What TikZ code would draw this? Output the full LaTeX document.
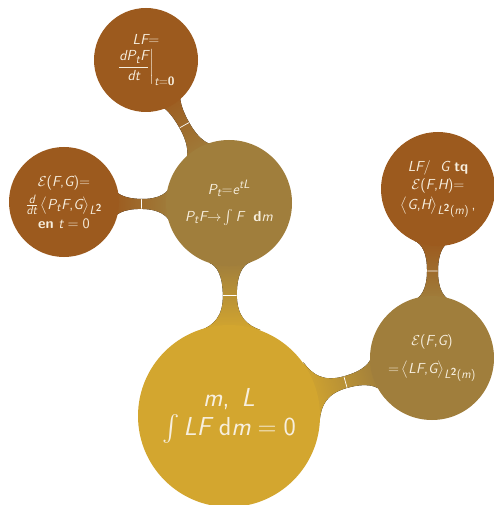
\documentclass[tikz,border=0pt]{standalone}
\usepackage{amsmath,amssymb}
\renewcommand{\familydefault}{\sfdefault}
\usepackage[italic]{mathastext}
\definecolor{cgold}{HTML}{D3A62F}
\definecolor{cmid}{HTML}{A07E3C}
\definecolor{cleaf}{HTML}{9C5A1E}
\definecolor{ctext}{HTML}{F7EFDF}
\tikzset{
  bubble/.style={circle, inner sep=0pt, align=center, text=ctext, font=\fontsize{14.5}{17}\selectfont},
  rootc/.style={bubble, fill=cgold, minimum size=182pt, font=\fontsize{26}{30}\selectfont},
  midc/.style={bubble, fill=cmid, minimum size=126pt},
  leafc/.style={bubble, fill=cleaf, minimum size=110pt},
  seam/.style={draw=white, line width=0.7pt},
}
% connection bar: x1 y1 r1 x2 y2 r2 halfwidth colA colB
\newcommand\cbar[9]{%
  \pgfmathsetmacro\cbdx{#4-#1}\pgfmathsetmacro\cbdy{#5-#2}%
  \pgfmathsetmacro\cbd{veclen(\cbdx,\cbdy)}%
  \pgfmathsetmacro\cbux{\cbdx/\cbd}\pgfmathsetmacro\cbuy{\cbdy/\cbd}%
  \pgfmathsetmacro\cbang{atan2(-\cbdy,\cbdx)-90}%
  \pgfmathsetmacro\cbal{20}%
  \pgfmathsetmacro\cbra{#3-2}\pgfmathsetmacro\cbrb{#6-2}%
  \pgfmathsetmacro\cbg{\cbd-#3-#6}%
  \pgfmathsetmacro\cbum{#3+\cbg/2}%
  \pgfmathsetmacro\cbpau{\cbra*cos(\cbal)}\pgfmathsetmacro\cbpav{\cbra*sin(\cbal)}%
  \pgfmathsetmacro\cbpbu{\cbd-\cbrb*cos(\cbal)}\pgfmathsetmacro\cbpbv{\cbrb*sin(\cbal)}%
  \pgfmathsetmacro\cbta{0.6*(\cbpav-#7)/cos(\cbal)}%
  \pgfmathsetmacro\cbtb{0.6*(\cbpbv-#7)/cos(\cbal)}%
  \pgfmathsetmacro\cbcau{\cbpau+\cbta*sin(\cbal)}\pgfmathsetmacro\cbcav{\cbpav-\cbta*cos(\cbal)}%
  \pgfmathsetmacro\cbcbu{\cbpbu-\cbtb*sin(\cbal)}\pgfmathsetmacro\cbcbv{\cbpbv-\cbtb*cos(\cbal)}%
  \pgfmathsetmacro\cbma{\cbum-0.6*(\cbum-\cbpau)}%
  \pgfmathsetmacro\cbmb{\cbum+0.6*(\cbpbu-\cbum)}%
  \def\cbp##1##2{({#1+(##1)*\cbux-(##2)*\cbuy},{#2+(##1)*\cbuy+(##2)*\cbux})}%
  \fill[bottom color=#8, top color=#9, shading angle=\cbang]
    \cbp{\cbpau}{\cbpav} .. controls \cbp{\cbcau}{\cbcav} and \cbp{\cbma}{#7} .. \cbp{\cbum}{#7}
    .. controls \cbp{\cbmb}{#7} and \cbp{\cbcbu}{\cbcbv} .. \cbp{\cbpbu}{\cbpbv}
    -- \cbp{\cbpbu}{-\cbpbv}
    .. controls \cbp{\cbcbu}{-\cbcbv} and \cbp{\cbmb}{-#7} .. \cbp{\cbum}{-#7}
    .. controls \cbp{\cbma}{-#7} and \cbp{\cbcau}{-\cbcav} .. \cbp{\cbpau}{-\cbpav} -- cycle;
  \draw[seam] \cbp{\cbum}{-#7+0.3} -- \cbp{\cbum}{#7-0.3};
}
\begin{document}
\begin{tikzpicture}[x=1pt,y=-1pt]
\useasboundingbox (0,0) rectangle (494,505);
\begin{scope}
\clip (0,0) rectangle (494,505);
% connection bars
\cbar{231}{414}{91}{229}{205}{63}{7}{cgold}{cmid}
\cbar{231}{414}{91}{432}{358}{62}{6}{cgold}{cmid}
\cbar{229}{205}{63}{145}{55}{52}{5.5}{cmid}{cleaf}
\cbar{229}{205}{63}{62}{203}{55}{5}{cmid}{cleaf}
\cbar{432}{358}{62}{433}{189}{57}{5.5}{cmid}{cleaf}
% concepts
\node[rootc] (root) at (229,416) {$m,\ L$\\[-1pt]$\int LF\ \mathrm{d}m=0$};
\node[midc] (mid) at (229,203) {$P_t{=}e^{tL}$\\[10pt]$P_tF{\to}\int F\ \ \mathbf{d}m$};
\node[leafc, minimum size=104pt] (top) at (146,60) {$LF{=}$\\[4pt]$\left.\dfrac{dP_tF}{dt}\right|_{t=\mathbf{0}}$};
\node[leafc] (left) at (64,202) {$\mathcal{E}(F{,}G){=}$\\[4pt]$\frac{d}{dt}\left<P_tF{,}G\right>_{L^{\mathbf 2}}$\\[2pt]\textbf{en} $t=0$};
\node[midc, minimum size=124pt] (rb) at (432,358) {$\mathcal{E}(F{,}G)$\\[11pt]${=}\left<LF{,}G\right>_{L^{\mathbf 2}(m)}$};
\node[leafc, minimum size=114pt] (rt) at (438,189) {$LF/\ \ G$ \textbf{tq}\\[1pt]$\mathcal{E}(F{,}H){=}$\\[3pt]$\left<G{,}H\right>_{L^{\mathbf 2}(m)}{,}$};
\end{scope}
\end{tikzpicture}
\end{document}
